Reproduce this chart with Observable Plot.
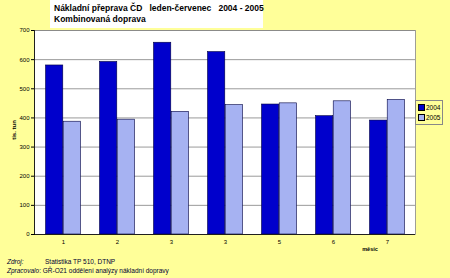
<!DOCTYPE html>
<html>
<head>
<meta charset="utf-8">
<script src="https://cdn.jsdelivr.net/npm/d3@7"></script>
<script src="https://cdn.jsdelivr.net/npm/@observablehq/plot@0.6"></script>
<style>
  html, body { margin: 0; padding: 0; background: #FFFF99; }
  #wrap { position: relative; width: 450px; height: 278px; overflow: hidden; font-family: "Liberation Sans", Arial, sans-serif; background: #FFFF99; }
  .abs { position: absolute; white-space: nowrap; }
  #title { left: 50px; top: 0px; width: 213px; height: 28px; background: #fff; font-weight: bold; font-size: 8.5px; line-height: 11px; padding: 3px 0 0 4px; box-sizing: border-box; color: #000; }
  #legend { left: 415px; top: 100px; width: 28px; height: 25px; border: 1px solid #888; box-sizing: border-box; font-size: 6.5px; line-height: 10px; padding: 2px 0 0 2px; }
  .sw { display: inline-block; width: 5px; height: 5px; border: 0.5px solid #000; margin-right: 1px; vertical-align: -0.5px; }
  #ylab { left: 14px; top: 130px; transform: translate(-50%, -50%) rotate(-90deg); font-size: 6px; font-weight: bold; }
  #xlab { left: 370px; top: 246px; transform: translateX(-50%); font-size: 5.5px; font-weight: bold; }
  #foot { left: 7px; top: 257px; font-size: 6.5px; line-height: 9px; color: #000033; }
  #foot i { display: inline-block; width: 38px; }
</style>
</head>
<body>
<div id="wrap">
  <div id="chart" class="abs" style="left:0;top:0"></div>
  <div id="title" class="abs">Nákladní přeprava ČD&nbsp;&nbsp; leden-červenec&nbsp;&nbsp; 2004 - 2005<br>Kombinovaná doprava</div>
  <div id="ylab" class="abs">tis. tun</div>
  <div id="xlab" class="abs">měsíc</div>
  <div id="legend" class="abs"></div>
  <div id="foot" class="abs"><i>Zdroj:</i>Statistika TP 510, DTNP<br><i style="width:auto">Zpracovalo</i>: GŘ-O21 oddělení analýzy nákladní dopravy</div>
</div>
<script>
const monthLabels = ["1", "2", "3", "3", "5", "6", "7"];
const series = ["2004", "2005"];
const values2004 = [580, 592, 658, 626, 446, 406, 391];
const values2005 = [387, 394, 421, 444, 450, 457, 462];
const colors = ["#0000CC", "#A6B2F2"];

const data = monthLabels.map((m, i) => ({i, v2004: values2004[i], v2005: values2005[i]}));

const W = 450, H = 278, mL = 34, mR = 35, mT = 30, mB = 44;
const band = (W - mL - mR) / monthLabels.length;
const barW = band * 0.325;
const inner = band / 2 - barW;

const chart = Plot.plot({
  width: W, height: H,
  marginLeft: mL, marginRight: mR, marginTop: mT, marginBottom: mB,
  style: {background: "transparent", fontFamily: "Liberation Sans, Arial, sans-serif", fontSize: "6px", color: "#000"},
  x: {type: "band", domain: d3.range(monthLabels.length), padding: 0, label: null, tickSize: 0, tickPadding: 5, tickFormat: i => monthLabels[i]},
  y: {domain: [0, 700], ticks: d3.range(0, 701, 100), label: null, tickSize: 3, tickPadding: 2},
  marks: [
    Plot.frame({fill: "white", stroke: null}),
    Plot.ruleY(d3.range(100, 701, 100), {stroke: "#808080", strokeWidth: 0.8}),
    Plot.barY(data, {x: "i", y: "v2004", fill: colors[0], stroke: "#000040", strokeWidth: 0.6, insetLeft: inner, insetRight: band / 2}),
    Plot.barY(data, {x: "i", y: "v2005", fill: colors[1], stroke: "#000040", strokeWidth: 0.6, insetLeft: band / 2, insetRight: inner}),
    Plot.frame({stroke: "#888", strokeWidth: 0.8}),
    Plot.frame({anchor: "left", stroke: "#000", strokeWidth: 0.8}),
    Plot.ruleY([0], {stroke: "#000", strokeWidth: 0.8})
  ]
});
document.getElementById("chart").appendChild(chart);

const leg = document.getElementById("legend");
series.forEach((s, k) => {
  const row = document.createElement("div");
  row.innerHTML = `<span class="sw" style="background:${colors[k]}"></span>${s}`;
  leg.appendChild(row);
});
</script>
</body>
</html>
